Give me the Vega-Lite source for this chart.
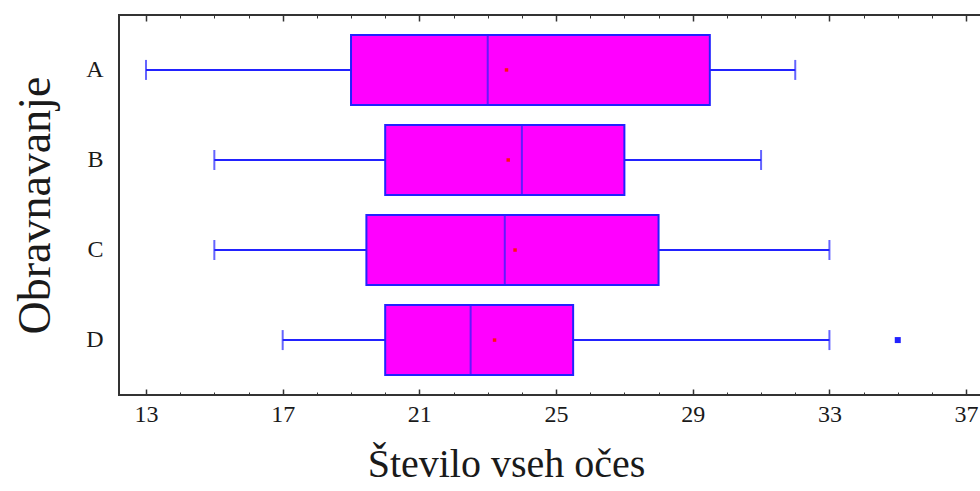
{
  "$schema": "https://vega.github.io/schema/vega-lite/v6.json",
  "width": 870,
  "height": 380,
  "autosize": {"type": "none"},
  "padding": {"left": 119, "top": 15, "right": 0, "bottom": 96},
  "background": "white",
  "config": {
    "view": {"stroke": "#333333", "strokeWidth": 2},
    "axis": {"domain": false, "grid": false, "labelFont": "Liberation Serif", "titleFont": "Liberation Serif", "labelColor": "#1a1a1a", "titleColor": "#1a1a1a", "tickColor": "#333", "titleFontWeight": "normal"}
  },
  "datasets": {
    "boxes": [
      {"g": "A", "lo": 13, "q1": 19, "med": 23, "q3": 29.5, "hi": 32, "mean": 23.55},
      {"g": "B", "lo": 15, "q1": 20, "med": 24, "q3": 27, "hi": 31, "mean": 23.6},
      {"g": "C", "lo": 15, "q1": 19.45, "med": 23.5, "q3": 28, "hi": 33, "mean": 23.8},
      {"g": "D", "lo": 17, "q1": 20, "med": 22.5, "q3": 25.5, "hi": 33, "mean": 23.2}
    ],
    "outliers": [
      {"g": "D", "v": 35}
    ]
  },
  "resolve": {"axis": {"x": "independent"}},
  "encoding": {
    "y": {
      "field": "g", "type": "nominal",
      "scale": {"paddingInner": 0, "paddingOuter": 0.11},
      "axis": {"title": "Obravnavanje", "titleFontSize": 46, "titlePadding": 26, "labelFontSize": 24, "labelPadding": 16, "ticks": false, "labelAngle": 0}
    }
  },
  "layer": [
    {
      "data": {"name": "boxes"},
      "mark": {"type": "rule", "color": "#2222ff", "strokeWidth": 2},
      "encoding": {
        "x": {"field": "lo", "type": "quantitative", "scale": {"domain": [12.21, 37.67], "nice": false, "zero": false},
          "axis": {"orient": "bottom", "values": [13, 17, 21, 25, 29, 33, 37], "tickSize": -6, "tickWidth": 1.5, "labelFontSize": 24, "labelPadding": 13, "title": "Število vseh očes", "titleFontSize": 40, "titlePadding": 18, "titleX": 387, "titleAnchor": "middle", "titleAlign": "center"}},
        "x2": {"field": "hi"}
      }
    },
    {
      "data": {"name": "boxes"},
      "mark": {"type": "bar", "size": 70, "fill": "#ff00ff", "stroke": "#2222ff", "strokeWidth": 2},
      "encoding": {
        "x": {"field": "q1", "type": "quantitative",
          "axis": {"orient": "bottom", "values": [13,14,15,16,17,18,19,20,21,22,23,24,25,26,27,28,29,30,31,32,33,34,35,36,37], "tickSize": -3, "labels": false, "title": null}},
        "x2": {"field": "q3"}
      }
    },
    {
      "data": {"name": "boxes"},
      "mark": {"type": "tick", "size": 20, "thickness": 2, "color": "#2222ff"},
      "encoding": {
        "x": {"field": "lo", "type": "quantitative",
          "axis": {"orient": "top", "values": [13,14,15,16,17,18,19,20,21,22,23,24,25,26,27,28,29,30,31,32,33,34,35,36,37], "tickSize": -3, "labels": false, "title": null}}
      }
    },
    {
      "data": {"name": "boxes"},
      "mark": {"type": "tick", "size": 20, "thickness": 2, "color": "#2222ff"},
      "encoding": {
        "x": {"field": "hi", "type": "quantitative",
          "axis": {"orient": "top", "values": [13, 17, 21, 25, 29, 33, 37], "tickSize": -6, "tickWidth": 1.5, "labels": false, "title": null}}
      }
    },
    {
      "data": {"name": "boxes"},
      "mark": {"type": "tick", "size": 70, "thickness": 2, "color": "#2222ff"},
      "encoding": {
        "x": {"field": "med", "type": "quantitative", "axis": null}
      }
    },
    {
      "data": {"name": "boxes"},
      "mark": {"type": "square", "size": 12, "filled": true, "color": "#ff1010", "opacity": 1},
      "encoding": {
        "x": {"field": "mean", "type": "quantitative", "axis": null}
      }
    },
    {
      "data": {"name": "outliers"},
      "mark": {"type": "square", "size": 36, "filled": true, "color": "#2222ff", "opacity": 1},
      "encoding": {
        "x": {"field": "v", "type": "quantitative", "axis": null}
      }
    }
  ]
}
